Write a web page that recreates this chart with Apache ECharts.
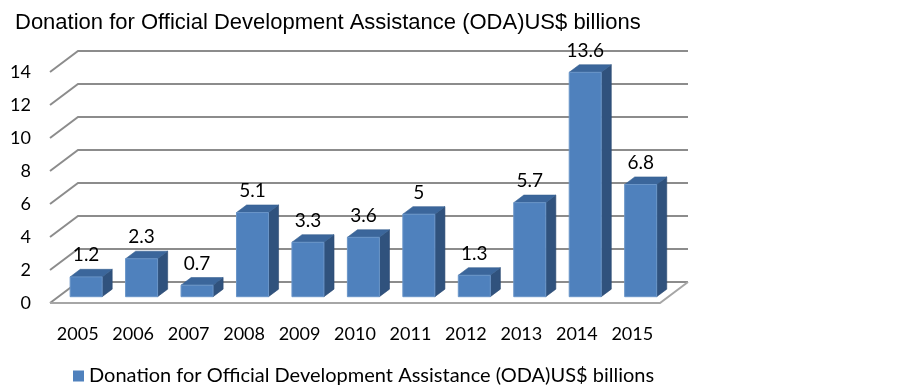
<!DOCTYPE html>
<html>
<head>
<meta charset="utf-8">
<title>ODA donations</title>
<script src="https://cdn.jsdelivr.net/npm/echarts@6/dist/echarts.min.js"></script>
<style>
  html, body { margin: 0; padding: 0; background: #fff; }
  #chart { width: 903px; height: 389px; }
</style>
</head>
<body>
<div id="chart"></div>
<script>
// data
var years = ['2005', '2006', '2007', '2008', '2009', '2010', '2011', '2012', '2013', '2014', '2015'];
var donations = [1.2, 2.3, 0.7, 5.1, 3.3, 3.6, 5, 1.3, 5.7, 13.6, 6.8];
var yTicks = [0, 2, 4, 6, 8, 10, 12, 14];
var seriesName = 'Donation for Official Development Assistance (ODA)US$ billions';

// fake 3d: offset of the back wall from the front plane
var DX = 28, DY = -21;
var D0 = 0.3, D1 = 0.66;   // bar depth, as a fraction of floor depth
var BAR_W = 32;

var chart = echarts.init(document.getElementById('chart'));

function gridItem(params, api) {
  var cs = params.coordSys;
  var v = api.value(0);
  var p = api.coord([0, v]);
  var y = p[1];
  var x0 = cs.x, x1 = cs.x + cs.width;
  var children = [];
  // left wall slant + back wall line
  children.push({
    type: 'polyline',
    shape: { points: [[x0, y], [x0 + DX, y + DY], [x1 + DX, y + DY]] },
    style: { stroke: '#8c8c8c', lineWidth: 2, fill: null }
  });
  if (v === 0) {
    // floor front and right edges
    children.push({
      type: 'polyline',
      shape: { points: [[x0, y], [x1, y], [x1 + DX, y + DY]] },
      style: { stroke: '#a6a6a6', lineWidth: 2, fill: null }
    });
  }
  return { type: 'group', children: children };
}

function barItem(params, api) {
  var i = api.value(0);
  var v = api.value(1);
  var base = api.coord([i, 0]);
  var top = api.coord([i, v]);
  var fx0 = base[0] - BAR_W / 2 + D0 * DX;
  var fx1 = base[0] + BAR_W / 2 + D0 * DX;
  var fyB = base[1] + D0 * DY;
  var fyT = top[1] + D0 * DY;
  var ox = (D1 - D0) * DX, oy = (D1 - D0) * DY;
  return {
    type: 'group',
    children: [
      {
        type: 'polygon',
        shape: { points: [[fx1, fyT], [fx1 + ox, fyT + oy], [fx1 + ox, fyB + oy], [fx1, fyB]] },
        style: { fill: '#30527d', stroke: '#2b4a72', lineWidth: 0.6 }
      },
      {
        type: 'polygon',
        shape: { points: [[fx0, fyT], [fx1, fyT], [fx1 + ox, fyT + oy], [fx0 + ox, fyT + oy]] },
        style: { fill: '#3b669b', stroke: '#365f90', lineWidth: 0.6 }
      },
      {
        type: 'rect',
        shape: { x: fx0, y: fyT, width: fx1 - fx0, height: fyB - fyT },
        style: { fill: '#4f81bd', stroke: '#6a95c8', lineWidth: 1 }
      },
      {
        type: 'text',
        x: (fx0 + fx1) / 2,
        y: fyT + oy - 14,
        style: {
          text: String(v),
          fill: '#000',
          font: '19px Lato',
          align: 'center',
          verticalAlign: 'middle'
        }
      }
    ]
  };
}

var option = {
  backgroundColor: '#fff',
  animation: false,
  title: {
    text: seriesName,
    left: 10,
    top: 7,
    textStyle: { fontFamily: 'Liberation Sans', fontSize: 22, fontWeight: 'normal', color: '#000' }
  },
  legend: {
    data: [{ name: seriesName, icon: 'rect' }],
    left: 68,
    top: 361,
    itemWidth: 11,
    itemHeight: 11,
    itemGap: 6,
    textStyle: { fontFamily: 'Lato', fontSize: 20, color: '#000' }
  },
  grid: { left: 50, right: 243, top: 72, bottom: 86 },
  xAxis: {
    type: 'category',
    data: years,
    axisLine: { show: false },
    axisTick: { show: false },
    axisLabel: { interval: 0, margin: 22, fontFamily: 'Lato', fontSize: 18, color: '#000' }
  },
  yAxis: {
    type: 'value',
    min: 0,
    max: 14,
    interval: 2,
    axisLine: { show: false },
    axisTick: { show: false },
    splitLine: { show: false },
    axisLabel: { margin: 19, fontFamily: 'Lato', fontSize: 18, color: '#000' }
  },
  series: [
    {
      type: 'custom',
      name: 'grid',
      silent: true,
      z: 1,
      renderItem: gridItem,
      data: yTicks.map(function (t) { return [t]; })
    },
    {
      type: 'custom',
      name: seriesName,
      z: 2,
      itemStyle: { color: '#4f81bd' },
      renderItem: barItem,
      encode: { x: 0, y: 1 },
      data: donations.map(function (d, i) { return [i, d]; })
    }
  ]
};

chart.setOption(option);
</script>
</body>
</html>
